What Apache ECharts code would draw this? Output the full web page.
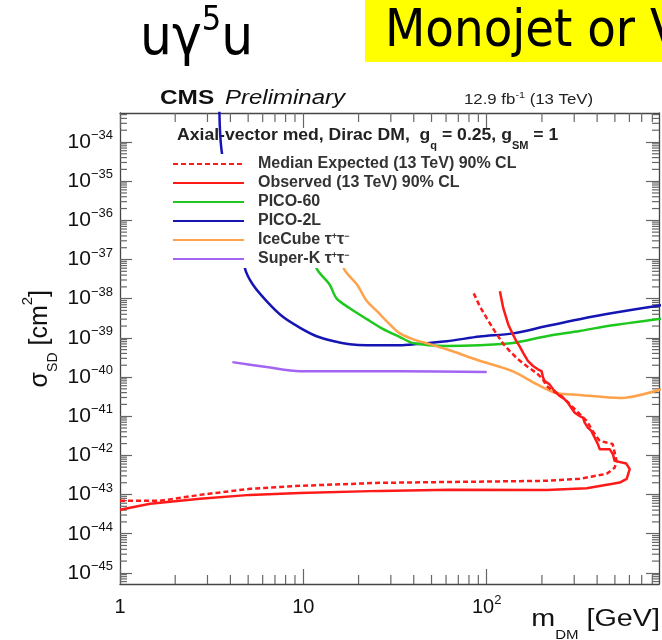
<!DOCTYPE html>
<html>
<head>
<meta charset="utf-8">
<script src="https://cdn.jsdelivr.net/npm/echarts@6/dist/echarts.min.js"></script>
<style>
  html, body { margin: 0; padding: 0; background: #fff; overflow: hidden; width: 662px; height: 640px; }
  #chart { width: 700px; height: 640px; }
</style>
</head>
<body>
<div id="chart"></div>
<script>
// Spin-dependent DM-nucleon cross section limits vs DM mass (axial-vector mediator)

// Cross sections are handed to the y axis in units of 1e-46 cm^2
const Y_UNIT = 1e-46;

// Axis ranges (GeV, cm^2)
const X_MIN = 1, X_MAX = 870;
const Y_MIN = 5.2e-46, Y_MAX = 5.5e-34;

// Decade tick values
const xMajor = [1, 10, 100];
const yMajor = [1e-45, 1e-44, 1e-43, 1e-42, 1e-41, 1e-40, 1e-39, 1e-38, 1e-37, 1e-36, 1e-35, 1e-34];

// CMS observed limit (contour: low-mass edge -> turnover -> back up)
const obsMass = [1.0, 1.46, 2.73, 5.11, 9.57, 26.1, 62.9, 212, 351, 486, 531, 580, 589, 602, 577, 498, 488, 468, 413, 404, 388, 372, 356, 342, 335, 321, 302, 289, 277, 266, 250, 240, 230, 220, 207, 203, 199, 190, 179, 168, 158, 151, 145, 139, 131, 123, 118];
const obsXsec = [4.1e-44, 5.8e-44, 7.8e-44, 9.8e-44, 1.1e-43, 1.24e-43, 1.32e-43, 1.3e-43, 1.45e-43, 1.88e-43, 2.02e-43, 2.5e-43, 2.72e-43, 4.44e-43, 6.17e-43, 7.23e-43, 1.07e-42, 1.44e-42, 1.44e-42, 1.93e-42, 2.84e-42, 4.21e-42, 5.1e-42, 6.84e-42, 9.17e-42, 1.01e-41, 1.23e-41, 1.65e-41, 2.21e-41, 2.7e-41, 3.27e-41, 3.97e-41, 4.85e-41, 6.5e-41, 7.89e-41, 9.6e-41, 1.42e-40, 1.57e-40, 1.91e-40, 2.55e-40, 4.15e-40, 6.14e-40, 8.24e-40, 1.22e-39, 2.2e-39, 5.82e-39, 1.55e-38];

// CMS median expected limit
const expMass = [1.0, 1.65, 2.73, 5.11, 9.57, 26.1, 212, 321, 451, 498, 511, 486, 413, 378, 351, 321, 283, 256, 229, 212, 202, 187, 165, 147.6, 133.5, 122.2, 110.6, 100, 91.6, 83.9];
const expXsec = [6.9e-44, 6.9e-44, 9.8e-44, 1.4e-43, 1.67e-43, 1.99e-43, 2.24e-43, 2.52e-43, 3.38e-43, 4.8e-43, 7.2e-43, 1.96e-42, 2.34e-42, 4.2e-42, 7.6e-42, 1.14e-41, 2.05e-41, 3.27e-41, 4.4e-41, 5.9e-41, 8.9e-41, 1.26e-40, 1.91e-40, 2.87e-40, 4.59e-40, 7.34e-40, 1.48e-39, 3.18e-39, 6.43e-39, 1.55e-38];

// PICO-60
const pico60Mass = [11.2, 11.8, 13.9, 15.2, 17.9, 22.2, 27.1, 33.6, 39.5, 60.5, 91.6, 139, 212, 321, 486, 900];
const pico60Xsec = [2.5e-37, 6.0e-38, 2.3e-38, 1.0e-38, 5.7e-39, 3.0e-39, 1.7e-39, 1.05e-39, 7.4e-40, 6.2e-40, 6.5e-40, 7.4e-40, 1.1e-39, 1.5e-39, 2.1e-39, 3.1e-39];

// PICO-2L
const pico2lMass = [3.48, 3.6, 4.8, 5.3, 6.3, 7.7, 9.6, 11.8, 14.5, 17.9, 22.2, 27.1, 33.6, 39.5, 60.5, 91.6, 139, 212, 321, 486, 900];
const pico2lXsec = [8e-34, 5.1e-35, 6.0e-38, 2.3e-38, 8.7e-39, 3.5e-39, 1.8e-39, 1.1e-39, 8.3e-40, 6.9e-40, 6.5e-40, 6.5e-40, 6.5e-40, 6.8e-40, 8.2e-40, 1.08e-39, 1.3e-39, 2.0e-39, 3.0e-39, 4.3e-39, 6.8e-39];

// IceCube tau+tau-
const icecubeMass = [16.0, 16.6, 19.6, 22.2, 25.2, 29.6, 33.6, 39.5, 48.9, 60.5, 91.6, 139, 187, 240, 321, 531, 900];
const icecubeXsec = [2.5e-37, 6.0e-38, 2.3e-38, 8.7e-39, 4.8e-39, 2.2e-39, 1.3e-39, 9.3e-40, 6.9e-40, 5.1e-40, 2.6e-40, 1.4e-40, 6.6e-41, 3.9e-41, 3.5e-41, 2.9e-41, 4.9e-41];

// Super-K tau+tau-
const superkMass = [4.1, 6.3, 9.6, 14.5, 33.6, 100];
const superkXsec = [2.4e-40, 1.8e-40, 1.4e-40, 1.4e-40, 1.4e-40, 1.35e-40];

const seriesNames = [
  'Median Expected (13 TeV) 90% CL',
  'Observed (13 TeV) 90% CL',
  'PICO-60',
  'PICO-2L',
  'IceCube τ+τ−',
  'Super-K τ+τ−'
];

const F = "'Liberation Sans', Arial, Helvetica, sans-serif";
const SLIDE_F = "'DejaVu Sans Condensed', 'DejaVu Sans', sans-serif";
const AXIS_COL = '#444';
const TICK_COL = '#666';
const UNIT_EXP = Math.round(Math.log10(Y_UNIT));

const pairs = (xs, ys) => xs.map((x, i) => [x, ys[i] / Y_UNIT]);
const yLo = Y_MIN / Y_UNIT, yHi = Y_MAX / Y_UNIT;
const yMajorScaled = yMajor.map(v => v / Y_UNIT);

// minor tick positions (2..9 x 10^k) inside the axis ranges
const minorX = [];
for (let k = 0; k <= 3; k++) for (let d = 2; d <= 9; d++) {
  const v = d * Math.pow(10, k);
  if (v > X_MIN && v < X_MAX) minorX.push([v, yLo, 0]);
}
const minorY = [];
for (let k = 0; k <= 13; k++) for (let d = 2; d <= 9; d++) {
  const v = d * Math.pow(10, k);
  if (v > yLo && v < yHi) minorY.push([X_MIN, v, 1]);
}

function pow10Exp(v) {
  const l = Math.log10(v);
  const e = Math.round(l);
  return Math.abs(l - e) < 1e-6 ? e : null;
}

const xLabelRich = {
  b: { fontFamily: F, fontSize: 20, color: '#111', lineHeight: 26 },
  s: { fontFamily: F, fontSize: 13, color: '#111', verticalAlign: 'top', lineHeight: 14 }
};
const yLabelRich = {
  b: { fontFamily: F, fontSize: 21, color: '#111', lineHeight: 26 },
  s: { fontFamily: F, fontSize: 13, color: '#111', verticalAlign: 'top', lineHeight: 14 }
};

function lineSeries(name, data, color, extra) {
  return Object.assign({
    name: name, type: 'line', data: data, symbol: 'none', showSymbol: false,
    lineStyle: { color: color, width: 2.5 }, itemStyle: { color: color },
    clip: true, z: 2
  }, extra || {});
}

function frameAxis(extra) {
  return Object.assign({
    type: 'log', logBase: 10,
    axisLine: { show: true, lineStyle: { color: AXIS_COL, width: 1.3 } },
    minorTick: { show: false }, splitLine: { show: false }
  }, extra);
}

const chart = echarts.init(document.getElementById('chart'), null, { renderer: 'canvas' });

const option = {
  backgroundColor: '#fff',
  animation: false,
  grid: { left: 120, top: 113, width: 539, height: 471 },
  xAxis: [
    frameAxis({
      min: X_MIN, max: X_MAX, position: 'bottom',
      axisTick: { show: true, inside: true, length: 15, customValues: xMajor, lineStyle: { color: TICK_COL, width: 1.2 } },
      axisLabel: {
        margin: 10, rich: xLabelRich, customValues: xMajor,
        formatter: v => {
          const e = pow10Exp(v);
          if (e === null) return '';
          if (e === 0) return '{b|1}';
          if (e === 1) return '{b|10}';
          return '{b|10}{s|' + e + '}';
        }
      }
    }),
    frameAxis({
      min: X_MIN, max: X_MAX, position: 'top',
      axisTick: { show: true, inside: true, length: 15, customValues: xMajor, lineStyle: { color: TICK_COL, width: 1.2 } },
      axisLabel: { show: false }
    })
  ],
  yAxis: [
    frameAxis({
      min: yLo, max: yHi, position: 'left',
      axisTick: { show: true, inside: true, length: 12, customValues: yMajorScaled, lineStyle: { color: TICK_COL, width: 1.2 } },
      axisLabel: {
        margin: 7, rich: yLabelRich, customValues: yMajorScaled,
        formatter: v => {
          const e = pow10Exp(v);
          if (e === null) return '';
          return '{b|10}{s|−' + (-(e + UNIT_EXP)) + '}';
        }
      }
    }),
    frameAxis({
      min: yLo, max: yHi, position: 'right',
      axisTick: { show: true, inside: true, length: 13, customValues: yMajorScaled, lineStyle: { color: TICK_COL, width: 1.2 } },
      axisLabel: { show: false }
    })
  ],
  legend: {
    data: seriesNames,
    orient: 'vertical', left: 167, top: 154,
    padding: [2, 40, 1, 5],
    itemWidth: 71, itemHeight: 15, itemGap: 3,
    backgroundColor: '#fff',
    selectedMode: false,
    itemStyle: { opacity: 0 },
    textStyle: {
      fontFamily: F, fontSize: 16, fontWeight: 'bold', color: '#333', lineHeight: 15, padding: [0, 0, 0, 9],
      rich: {
        t: { fontFamily: F, fontSize: 16, fontWeight: 'bold', color: '#333', lineHeight: 15 },
        p: { fontFamily: F, fontSize: 9, fontWeight: 'bold', color: '#333', verticalAlign: 'top', lineHeight: 6 }
      }
    },
    formatter: name => {
      const m = name.match(/^(.*) τ\+τ−$/);
      if (m) return '{t|' + m[1] + ' τ}{p|+}{t|τ}{p|−}';
      return '{t|' + name + '}';
    }
  },
  series: [
    lineSeries(seriesNames[3], pairs(pico2lMass, pico2lXsec), '#1515b4', { smooth: 0.3 }),
    lineSeries(seriesNames[2], pairs(pico60Mass, pico60Xsec), '#1ec81e', { smooth: 0.3 }),
    lineSeries(seriesNames[4], pairs(icecubeMass, icecubeXsec), '#ffa24a', { smooth: 0.3 }),
    lineSeries(seriesNames[5], pairs(superkMass, superkXsec), '#a464f2', { smooth: 0.3 }),
    lineSeries(seriesNames[0], pairs(expMass, expXsec), '#ff1a1a', {
      lineStyle: { color: '#ff1a1a', width: 2.5, type: [5, 3] }, z: 3
    }),
    lineSeries(seriesNames[1], pairs(obsMass, obsXsec), '#ff1a1a', { z: 3 }),
    {
      name: 'minor ticks', type: 'custom', silent: true, clip: false, z: 1,
      xAxisIndex: 0, yAxisIndex: 0,
      encode: { x: 0, y: 1 },
      data: minorX.concat(minorY),
      renderItem: (params, api) => {
        const cs = params.coordSys;
        const p = api.coord([api.value(0), api.value(1)]);
        const st = { stroke: TICK_COL, lineWidth: 1.2 };
        if (api.value(2) === 0) {
          const yb = cs.y + cs.height, yt = cs.y;
          return { type: 'group', children: [
            { type: 'line', shape: { x1: p[0], y1: yb, x2: p[0], y2: yb - 9 }, style: st },
            { type: 'line', shape: { x1: p[0], y1: yt, x2: p[0], y2: yt + 9 }, style: st }
          ] };
        }
        const xl = cs.x, xr = cs.x + cs.width;
        return { type: 'group', children: [
          { type: 'line', shape: { x1: xl, y1: p[1], x2: xl + 7, y2: p[1] }, style: st },
          { type: 'line', shape: { x1: xr, y1: p[1], x2: xr - 7, y2: p[1] }, style: st }
        ] };
      }
    }
  ],
  graphic: [
    // slide heading
    {
      type: 'text', x: 140, y: 39,
      style: {
        text: '{a|uγ}{s|5}{a|u}', verticalAlign: 'middle', fill: '#000',
        rich: {
          a: { fontFamily: SLIDE_F, fontSize: 56, lineHeight: 70, fill: '#000' },
          s: { fontFamily: SLIDE_F, fontSize: 34, lineHeight: 46, verticalAlign: 'top', fill: '#000' }
        }
      }
    },
    { type: 'rect', shape: { x: 365, y: 0, width: 300, height: 62 }, style: { fill: '#ffff00' } },
    {
      type: 'text', x: 385, y: 32,
      style: { text: 'Monojet or V', fontFamily: SLIDE_F, fontSize: 52, fill: '#000', verticalAlign: 'middle' }
    },
    // plot header
    {
      type: 'text', x: 160, y: 98, scaleX: 1.22,
      style: { text: 'CMS', fontFamily: F, fontSize: 20, fontWeight: 'bold', fill: '#111', verticalAlign: 'middle' }
    },
    {
      type: 'text', x: 225, y: 98, scaleX: 1.2,
      style: { text: 'Preliminary', fontFamily: F, fontSize: 20, fontStyle: 'italic', fill: '#111', verticalAlign: 'middle' }
    },
    {
      type: 'text', x: 464, y: 100, scaleX: 1.2,
      style: {
        text: '{a|12.9 fb}{s|-1}{a| (13 TeV)}', verticalAlign: 'middle',
        rich: {
          a: { fontFamily: F, fontSize: 14, lineHeight: 18, fill: '#222' },
          s: { fontFamily: F, fontSize: 9, lineHeight: 8, verticalAlign: 'top', fill: '#222' }
        }
      }
    },
    {
      type: 'text', x: 177, y: 136, scaleX: 1.1,
      style: {
        text: '{a|Axial-vector med, Dirac DM,  g}{b|q}{a| = 0.25, g}{b|SM}{a| = 1}', verticalAlign: 'middle',
        rich: {
          a: { fontFamily: F, fontSize: 16, fontWeight: 'bold', lineHeight: 31, fill: '#222' },
          b: { fontFamily: F, fontSize: 10, fontWeight: 'bold', lineHeight: 10, verticalAlign: 'bottom', fill: '#222' }
        }
      }
    },
    // axis titles
    {
      type: 'text', x: 40, y: 290, rotation: Math.PI / 2,
      style: {
        text: '{a|σ}{b|SD}{a| [cm}{c|2}{a|]}', align: 'right', verticalAlign: 'middle',
        rich: {
          a: { fontFamily: F, fontSize: 25, lineHeight: 40, fill: '#111' },
          b: { fontFamily: F, fontSize: 14, lineHeight: 14, verticalAlign: 'bottom', fill: '#111' },
          c: { fontFamily: F, fontSize: 15, lineHeight: 16, verticalAlign: 'top', fill: '#111' }
        }
      }
    },
    {
      type: 'text', x: 660, y: 620, scaleX: 1.25,
      style: {
        text: '{a|m}{b|DM}{a| [GeV]}', align: 'right', verticalAlign: 'middle',
        rich: {
          a: { fontFamily: F, fontSize: 23, lineHeight: 44, fill: '#111' },
          b: { fontFamily: F, fontSize: 12, lineHeight: 12, verticalAlign: 'bottom', fill: '#111' }
        }
      }
    }
  ]
};

chart.setOption(option);
</script>
</body>
</html>
